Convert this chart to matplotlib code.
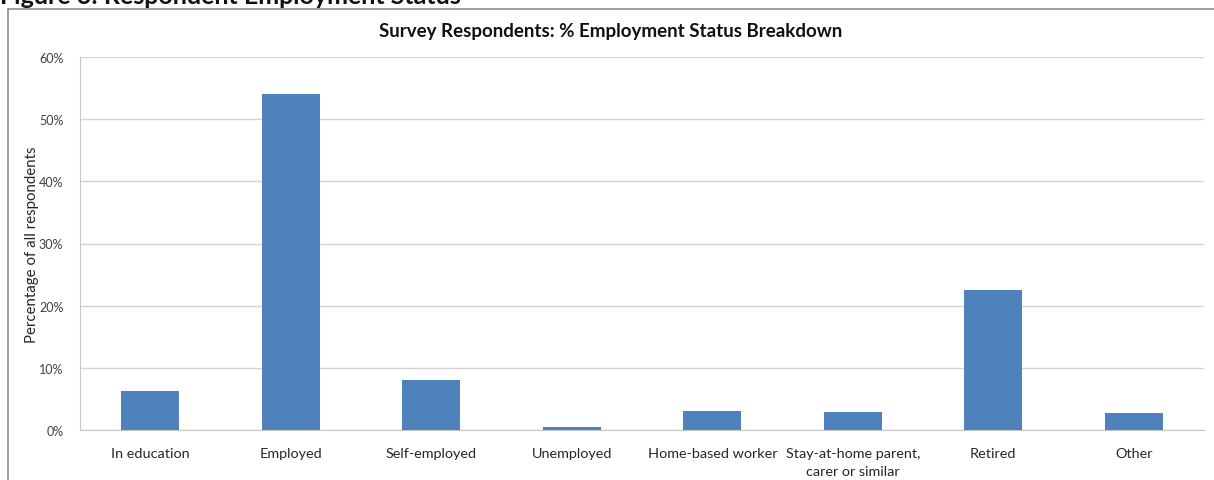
import matplotlib
matplotlib.use("Agg")
import matplotlib.pyplot as plt
from matplotlib.lines import Line2D
from matplotlib.ticker import PercentFormatter

plt.rcParams['font.family'] = ['Lato', 'DejaVu Sans']

categories = ["In education", "Employed", "Self-employed", "Unemployed",
              "Home-based worker", "Stay-at-home parent,\ncarer or similar",
              "Retired", "Other"]
shares = [6.2, 54.0, 8.1, 0.5, 3.0, 2.9, 22.6, 2.7]
yticks = [0, 10, 20, 30, 40, 50, 60]

W, H = 1214, 481
fig = plt.figure(figsize=(W / 100, H / 100), dpi=100)
fig.patch.set_facecolor("white")

# Plot area
ax = fig.add_axes([80 / W, 1 - 431 / H, (1204 - 80) / W, (431 - 58) / H])
x = range(len(categories))
ax.bar(x, shares, width=0.41, color="#4F81BD", zorder=3)

ax.set_xlim(-0.5, len(categories) - 0.5)
ax.set_ylim(0, 60)
ax.set_yticks(yticks)
ax.yaxis.set_major_formatter(PercentFormatter(decimals=0))
ax.grid(axis="y", color="#d4d4d4", linewidth=1, zorder=0)
ax.set_axisbelow(True)

for side in ("top", "right"):
    ax.spines[side].set_visible(False)
ax.spines["left"].set_color("#c8c8c8")
ax.spines["bottom"].set_color("#c8c8c8")

ax.set_xticks(list(x))
ax.set_xticklabels(categories, fontsize=10.4, color="#262626", linespacing=1.6)
ax.tick_params(axis="x", length=0, pad=12)
ax.tick_params(axis="y", length=0, pad=12, labelsize=9, labelcolor="#404040")

ax.set_ylabel("Percentage of all respondents", fontsize=10.8, color="#262626")
ax.yaxis.set_label_coords(-(80 - 39) / (1204 - 80), 0.5)

# Chart title
fig.text(611 / W, 1 - 31 / H, "Survey Respondents: % Employment Status Breakdown",
         ha="center", va="center", fontsize=13.5, fontweight="bold", color="#111111")

# Figure caption (partially above the frame)
fig.text(0, 1 - 4 / H, "Figure 6: Respondent Employment Status",
         ha="left", va="baseline", fontsize=18, fontweight="bold", color="#111111")

# Chart frame
fig.add_artist(Line2D([8 / W, 8 / W], [0, 1 - 9.5 / H], transform=fig.transFigure,
                      color="#8c8c8c", linewidth=1.2))
fig.add_artist(Line2D([8 / W, 1], [1 - 9.5 / H, 1 - 9.5 / H], transform=fig.transFigure,
                      color="#8c8c8c", linewidth=1.2))

fig.savefig("out.png", dpi=100)
